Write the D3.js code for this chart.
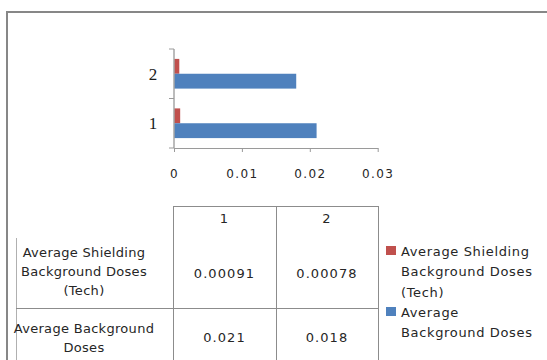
<!DOCTYPE html>
<html>
<head>
<meta charset="utf-8">
<script src="https://cdn.jsdelivr.net/npm/d3@7"></script>
<style>
  html, body { margin: 0; padding: 0; background: #fff; }
  svg { display: block; }
  .lbl { font-family: "DejaVu Sans", sans-serif; font-size: 13px; fill: #262626; }
  .row { letter-spacing: 0.3px; }
  .num { letter-spacing: 1.1px; }
  .leg { letter-spacing: 0.65px; }
</style>
</head>
<body>
<svg id="chart" width="547" height="360"></svg>
<script>
// Categories and series
const categories = ["1", "2"];
const shieldingDoses = [0.00091, 0.00078];
const backgroundDoses = [0.021, 0.018];
const seriesNames = ["Average Shielding Background Doses (Tech)", "Average Background Doses"];
const seriesColors = ["#C0504D", "#4F81BD"];
const xTicks = [0, 0.01, 0.02, 0.03];

// Wrapped text lines for the table row headers and the legend
const rowHeaderLines = [["Average Shielding", "Background Doses", "(Tech)"], ["Average Background", "Doses"]];
const legendLines = [["Average Shielding", "Background Doses", "(Tech)"], ["Average", "Background Doses"]];

const series = [
  { name: seriesNames[0], color: seriesColors[0], values: shieldingDoses },
  { name: seriesNames[1], color: seriesColors[1], values: backgroundDoses }
];

const svg = d3.select("#chart");

// Outer chart frame
svg.append("path")
  .attr("d", "M7,360 V12 H547")
  .attr("fill", "none")
  .attr("stroke", "#878787")
  .attr("stroke-width", 2);

// Scales
const x = d3.scaleLinear().domain([0, 0.03]).range([174, 377.7]);
const yCat = d3.scaleBand()
  .domain(categories.slice().reverse())
  .range([49, 148])
  .paddingInner(0.4)
  .paddingOuter(0.2);
const ySer = d3.scaleBand()
  .domain(series.map(s => s.name))
  .range([0, yCat.bandwidth()]);

// Bars
const groups = svg.append("g").selectAll("g")
  .data(categories)
  .join("g")
  .attr("transform", d => `translate(0,${yCat(d)})`);

groups.selectAll("rect")
  .data((c, i) => series.map(s => ({ s, v: s.values[i] })))
  .join("rect")
  .attr("x", x(0))
  .attr("y", d => ySer(d.s.name))
  .attr("width", d => x(d.v) - x(0))
  .attr("height", ySer.bandwidth())
  .attr("fill", d => d.s.color);

// X axis
const xAxis = svg.append("g")
  .attr("transform", "translate(0,148)")
  .call(d3.axisBottom(x).tickValues(xTicks).tickSize(4).tickSizeOuter(0).tickFormat(d => String(d)));
xAxis.select(".domain").attr("stroke", "#9a9a9a");
xAxis.selectAll(".tick line").attr("stroke", "#9a9a9a");
xAxis.selectAll(".tick text")
  .attr("y", 26)
  .attr("dy", "0.32em")
  .attr("font-family", "DejaVu Sans, sans-serif")
  .attr("font-size", 12)
  .attr("letter-spacing", "1.4px")
  .attr("fill", "#262626");

// Y axis: category boundaries as ticks
const yAxisG = svg.append("g");
yAxisG.append("line")
  .attr("x1", x(0)).attr("x2", x(0))
  .attr("y1", yCat.range()[0]).attr("y2", yCat.range()[1])
  .attr("stroke", "#a6a6a6").attr("stroke-width", 1.5);
const bounds = [yCat.range()[0], yCat.range()[0] + yCat.step(), yCat.range()[1]];
yAxisG.selectAll("line.tk")
  .data(bounds)
  .join("line")
  .attr("class", "tk")
  .attr("x1", x(0) - 5).attr("x2", x(0))
  .attr("y1", d => d).attr("y2", d => d)
  .attr("stroke", "#9a9a9a");
yAxisG.selectAll("text")
  .data(categories)
  .join("text")
  .attr("x", x(0) - 21)
  .attr("y", d => yCat(d) + yCat.bandwidth() / 2)
  .attr("dy", "0.35em")
  .attr("text-anchor", "middle")
  .attr("font-family", "Liberation Serif, serif")
  .attr("font-size", 17)
  .attr("fill", "#1a1a1a")
  .text(d => d);

// Data table
const colEdges = [173, 276, 378];
const tableTop = 206, headerBottom = 238, rowSplit = 308, tableLeft = 16;
const grid = svg.append("g").attr("stroke", "#8c8c8c").attr("stroke-width", 1);
grid.append("line").attr("x1", colEdges[0]).attr("x2", colEdges[2]).attr("y1", tableTop + 0.5).attr("y2", tableTop + 0.5);
colEdges.forEach(cx => grid.append("line").attr("x1", cx + 0.5).attr("x2", cx + 0.5).attr("y1", tableTop).attr("y2", 360));
grid.append("line").attr("x1", tableLeft + 0.5).attr("x2", tableLeft + 0.5).attr("y1", headerBottom).attr("y2", 360).attr("stroke", "#b0b0b0");
grid.append("line").attr("x1", tableLeft).attr("x2", colEdges[2]).attr("y1", rowSplit + 0.5).attr("y2", rowSplit + 0.5);

const colCenter = i => (colEdges[i] + colEdges[i + 1]) / 2;
const table = svg.append("g");
categories.forEach((c, i) => {
  table.append("text").attr("class", "lbl num")
    .attr("x", colCenter(i)).attr("y", 218).attr("dy", "0.35em")
    .attr("text-anchor", "middle").text(c);
});
const rowCenters = [273, 337];
series.forEach((s, r) => {
  s.values.forEach((v, i) => {
    table.append("text").attr("class", "lbl num")
      .attr("x", colCenter(i)).attr("y", rowCenters[r]).attr("dy", "0.35em")
      .attr("text-anchor", "middle").text(String(v));
  });
});
const rowHeaderStart = [252, 328];
rowHeaderLines.forEach((lines, r) => {
  lines.forEach((t, k) => {
    table.append("text").attr("class", "lbl row")
      .attr("x", 84).attr("y", rowHeaderStart[r] + k * 19).attr("dy", "0.35em")
      .attr("text-anchor", "middle").text(t);
  });
});

// Legend
const legend = svg.append("g");
const legendStart = [251, 312];
series.forEach((s, r) => {
  legend.append("rect")
    .attr("x", 386).attr("y", legendStart[r] - 5)
    .attr("width", 10).attr("height", 9)
    .attr("fill", s.color);
  legendLines[r].forEach((t, k) => {
    legend.append("text").attr("class", "lbl leg")
      .attr("x", 401).attr("y", legendStart[r] + k * 20.5).attr("dy", "0.35em")
      .text(t);
  });
});
</script>
</body>
</html>
